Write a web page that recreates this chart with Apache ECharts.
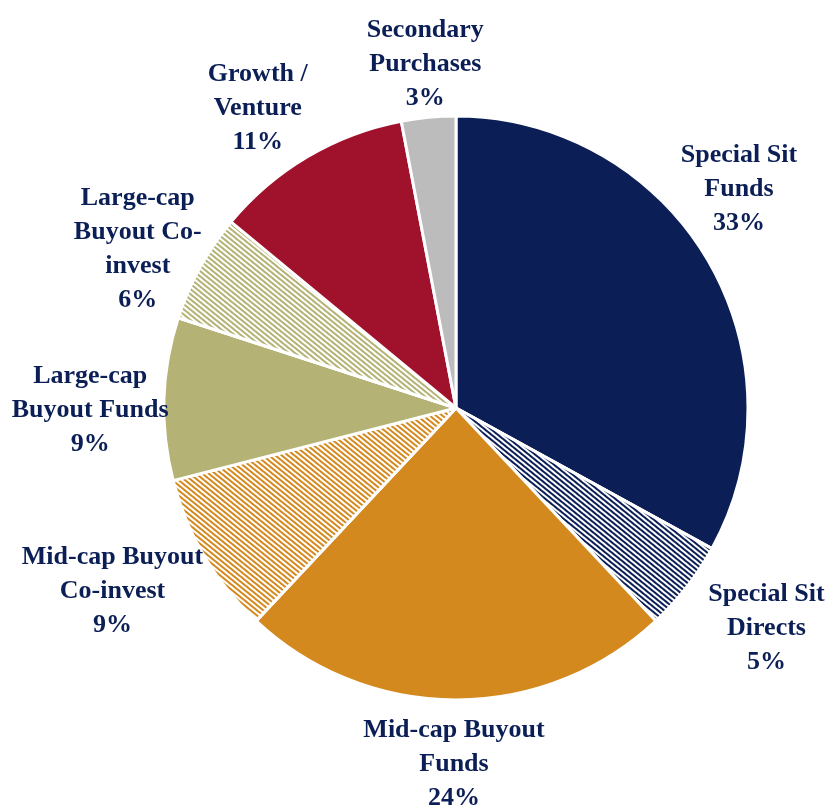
<!DOCTYPE html>
<html>
<head>
<meta charset="utf-8">
<script src="https://cdn.jsdelivr.net/npm/echarts@6/dist/echarts.min.js"></script>
<style>
html,body{margin:0;padding:0;background:#fff;}
#chart{width:830px;height:806px;}
</style>
</head>
<body>
<div id="chart"></div>
<script>
var categories = [
  'Special Sit\nFunds',
  'Special Sit\nDirects',
  'Mid-cap Buyout\nFunds',
  'Mid-cap Buyout\nCo-invest',
  'Large-cap\nBuyout Funds',
  'Large-cap\nBuyout Co-\ninvest',
  'Growth /\nVenture',
  'Secondary\nPurchases'
];
var values = [33, 5, 24, 9, 9, 6, 11, 3];
var colors = ['#0b1f56', '#0b1f56', '#d4891e', '#d4891e', '#b4b274', '#b4b274', '#a0112b', '#bcbcbc'];
var hatched = [false, true, false, true, false, true, false, false];
var labelLengths = [60, 82, 60, 92, 70, 62, 66, 55];
var labelShiftX = [-20, 15, -2, -13, -4, -8, -16, 2];
var labelShiftY = [-40, -9, 4, -12, 14, 12, 8, 2];

var chart = echarts.init(document.getElementById('chart'));
var data = categories.map(function (name, i) {
  var item = {
    name: name,
    value: values[i],
    labelLine: { show: false, length: labelLengths[i], length2: 0 }
  };
  if (hatched[i]) {
    item.itemStyle = {
      color: '#ffffff',
      decal: {
        symbol: 'rect',
        symbolSize: 1,
        color: colors[i],
        dashArrayX: [1, 0],
        dashArrayY: [1.8, 1.1],
        rotation: 0.68
      }
    };
  } else {
    item.itemStyle = { color: colors[i] };
  }
  return item;
});

chart.setOption({
  animation: false,
  backgroundColor: '#ffffff',
  series: [{
    type: 'pie',
    center: [456, 408],
    radius: [0, 292],
    startAngle: 90,
    clockwise: true,
    avoidLabelOverlap: false,
    itemStyle: { borderColor: '#ffffff', borderWidth: 3 },
    label: {
      show: true,
      position: 'outside',
      distanceToLabelLine: 0,
      formatter: function (p) { return p.name + '\n' + p.value + '%'; },
      fontFamily: '"Liberation Serif", "Times New Roman", serif',
      fontWeight: 'bold',
      fontSize: 26,
      lineHeight: 34,
      color: '#0b1f56'
    },
    labelLayout: function (params) {
      var i = params.dataIndex;
      return { align: 'center', verticalAlign: 'middle', dx: labelShiftX[i], dy: labelShiftY[i] };
    },
    emphasis: { disabled: true },
    data: data
  }]
});
</script>
</body>
</html>
